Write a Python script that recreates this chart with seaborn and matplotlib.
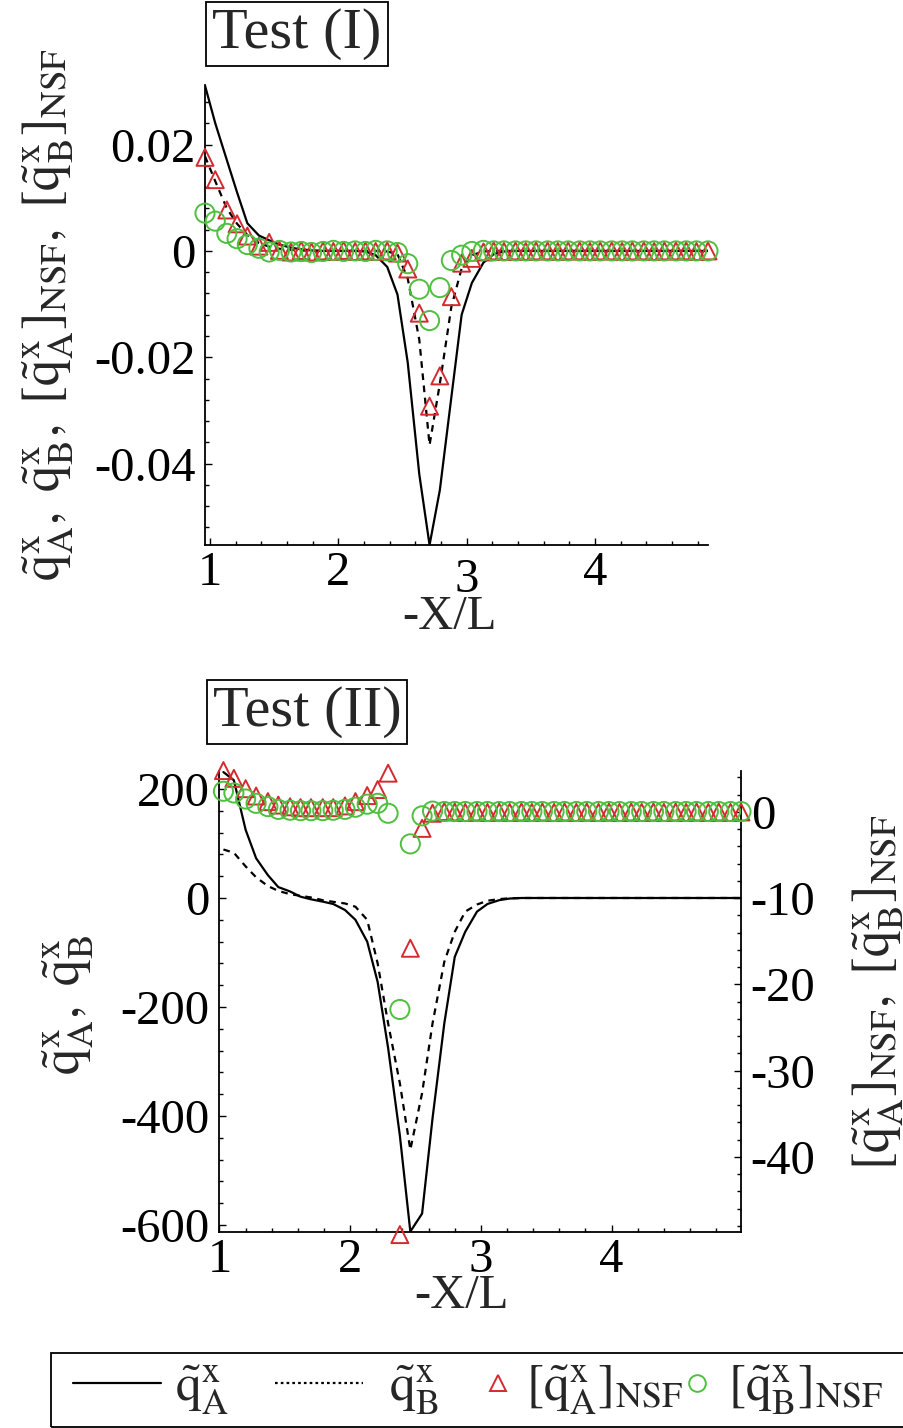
import matplotlib
matplotlib.use("Agg")
import matplotlib.pyplot as plt
import seaborn as sns
from matplotlib.lines import Line2D
from matplotlib.patches import Rectangle
from matplotlib.ticker import MultipleLocator
from matplotlib.transforms import ScaledTranslation

# ---------------- data ----------------
x_top = [0.96, 1.04, 1.13, 1.21, 1.29, 1.38, 1.46, 1.54, 1.63, 1.71, 1.79, 1.88,
         1.96, 2.04, 2.13, 2.21, 2.29, 2.38, 2.46, 2.54, 2.63, 2.71, 2.79, 2.88,
         2.96, 3.04, 3.13, 3.21, 3.29, 3.38, 3.46, 3.54, 3.63, 3.71, 3.79, 3.88,
         3.96, 4.04, 4.13, 4.21, 4.29, 4.38, 4.46, 4.54, 4.63, 4.71, 4.79, 4.88]
qA_top = [0.0311, 0.0240, 0.0171, 0.0110, 0.0052, 0.0029, 0.0020, 0.0012, 0.0006, 0.0003,
          0.0001, 0.0, 0.0, 0.0, 0.0, -0.0001, -0.0008, -0.0030, -0.0082, -0.0210,
          -0.0420, -0.0553, -0.0450, -0.0275, -0.0120, -0.0060, -0.0022, -0.0006, -0.0001, 0.0,
          0.0, 0.0, 0.0, 0.0, 0.0, 0.0, 0.0, 0.0, 0.0, 0.0,
          0.0, 0.0, 0.0, 0.0, 0.0, 0.0, 0.0, 0.0]
qB_top = [0.0178, 0.0131, 0.0080, 0.0051, 0.0030, 0.0015, 0.0008, 0.0004, 0.0002, 0.0001,
          0.0, 0.0, 0.0, 0.0, 0.0, 0.0, 0.0, -0.0001, -0.0006, -0.0052,
          -0.0167, -0.0365, -0.0250, -0.0105, -0.0033, -0.0008, -0.0001, 0.0, 0.0, 0.0,
          0.0, 0.0, 0.0, 0.0, 0.0, 0.0, 0.0, 0.0, 0.0, 0.0,
          0.0, 0.0, 0.0, 0.0, 0.0, 0.0, 0.0, 0.0]
nsfA_top = [0.0176, 0.0134, 0.0077, 0.0051, 0.0028, 0.0009, 0.0016, 0.0001, -0.0002, 0.0001,
            -0.0002, 0.0, -0.0001, 0.0001, -0.0001, 0.0, -0.0001, 0.0, -0.0004, -0.0034,
            -0.0117, -0.0292, -0.0235, -0.0086, -0.0023, -0.0014, -0.0002, 0.0, -0.0001, 0.0,
            -0.0001, 0.0, 0.0, -0.0001, 0.0, 0.0, -0.0001, 0.0, 0.0, -0.0001,
            0.0, 0.0, -0.0001, 0.0, 0.0, 0.0, -0.0001, 0.0]
nsfB_top = [0.0071, 0.0056, 0.0033, 0.0023, 0.0012, 0.0005, -0.0002, 0.0001, -0.0002, -0.0001,
            -0.0003, -0.0001, 0.0001, -0.0001, 0.0, -0.0001, 0.0001, 0.0, -0.0003, -0.0024,
            -0.0072, -0.0131, -0.0069, -0.0018, -0.0008, -0.0001, 0.0001, 0.0, 0.0, 0.0,
            0.0, 0.0, 0.0, 0.0, 0.0, 0.0, 0.0, 0.0, 0.0, 0.0,
            0.0, 0.0, 0.0, 0.0, 0.0, 0.0, 0.0, 0.0]

x_bot = [1.03, 1.11, 1.20, 1.28, 1.37, 1.45, 1.54, 1.62, 1.70, 1.79, 1.87, 1.96,
         2.04, 2.13, 2.21, 2.29, 2.38, 2.46, 2.55, 2.63, 2.72, 2.80, 2.88, 2.97,
         3.05, 3.14, 3.22, 3.31, 3.39, 3.47, 3.56, 3.64, 3.73, 3.81, 3.90, 3.98,
         4.06, 4.15, 4.23, 4.32, 4.40, 4.49, 4.57, 4.65, 4.74, 4.82, 4.91, 4.99]
qA_bot = [231, 216, 125, 73, 42, 20, 12, 2.4, -2.4, -6.7,
          -11, -22, -40, -80, -154, -275, -436, -612, -579, -404,
          -230, -108, -62, -25, -11, -4, -1, 0, 0, 0,
          0, 0, 0, 0, 0, 0, 0, 0, 0, 0,
          0, 0, 0, 0, 0, 0, 0, 0]
qB_bot = [89, 83, 58, 38, 22, 13, 7, 4, 1, -4,
          -7, -10, -16, -40, -120, -230, -340, -462, -358, -230,
          -117, -62, -25, -12, -5, -2, -0.5, 0, 0, 0,
          0, 0, 0, 0, 0, 0, 0, 0, 0, 0,
          0, 0, 0, 0, 0, 0, 0, 0]
nsfA_bot = [4.8, 3.9, 2.7, 1.85, 1.2, 0.8, 0.6, 0.5, 0.5, 0.5,
            0.5, 0.7, 1.2, 1.9, 2.6, 4.5, -49.0, -15.8, -1.9, -0.15,
            0.05, 0.0, -0.05, 0.0, -0.05, 0.0, -0.05, 0.0, -0.05, 0.0,
            -0.05, 0.0, -0.05, 0.0, -0.05, 0.0, -0.05, 0.0, -0.05, 0.0,
            -0.05, 0.0, -0.05, 0.0, -0.05, 0.0, -0.05, 0.0]
nsfB_bot = [2.4, 2.2, 1.5, 1.0, 0.62, 0.3, 0.2, 0.15, 0.15, 0.15,
            0.2, 0.3, 0.55, 0.9, 1.0, -0.15, -22.9, -3.7, -0.45, 0.1,
            0.05, 0.05, 0.05, 0.05, 0.05, 0.05, 0.05, 0.05, 0.05, 0.05,
            0.05, 0.05, 0.05, 0.05, 0.05, 0.05, 0.05, 0.05, 0.05, 0.05,
            0.05, 0.05, 0.05, 0.05, 0.05, 0.05, 0.05, 0.05]

xticks = [1, 2, 3, 4]
xticklabels = ["1", "2", "3", "4"]
yticks_top = [-0.04, -0.02, 0, 0.02]
yticklabels_top = ["-0.04", "-0.02", "0", "0.02"]
yticks_botL = [-600, -400, -200, 0, 200]
yticklabels_botL = ["-600", "-400", "-200", "0", "200"]
yticks_botR = [-40, -30, -20, -10, 0]
yticklabels_botR = ["-40", "-30", "-20", "-10", "0"]

QA = r"\tilde{\mathrm{q}}^{\mathrm{x}}_{\mathrm{A}}"
QB = r"\tilde{\mathrm{q}}^{\mathrm{x}}_{\mathrm{B}}"
NA = r"[" + QA + r"]_{\mathrm{NSF}}"
NB = r"[" + QB + r"]_{\mathrm{NSF}}"

# ---------------- style ----------------
sns.set_theme(style="ticks")
plt.rcParams["font.family"] = ["Liberation Serif", "DejaVu Serif"]
plt.rcParams["mathtext.fontset"] = "stix"
plt.rcParams["axes.unicode_minus"] = False

RED = "#d42a2f"
GREEN = "#4fbf3f"
TICK_FS = 35
LAB_FS = 38
LEG_FS = 37
W, H = 904, 1428


def fx(px):
    return px / W


def fy(py):
    return 1 - py / H


fig = plt.figure(figsize=(W / 100, H / 100), dpi=100)
fig.patch.set_facecolor("white")

ax1 = fig.add_axes([fx(205), fy(545), (708 - 205) / W, (545 - 85) / H])
ax2 = fig.add_axes([fx(219.5), fy(1232), (741 - 219.5) / W, (1232 - 771) / H])
ax2r = ax2.twinx()

for a in (ax1, ax2, ax2r):
    a.set_facecolor("none")
    for s in a.spines.values():
        s.set_color("black")
        s.set_linewidth(1.3)
    a.tick_params(which="both", direction="in", color="black", width=1.0,
                  labelsize=TICK_FS, labelcolor="black")
    a.tick_params(which="major", length=5)
    a.tick_params(which="minor", length=3)

ax1.spines["top"].set_visible(False)
ax1.spines["right"].set_visible(False)
ax2.spines["top"].set_visible(False)
ax2.spines["right"].set_visible(False)
ax2r.spines["top"].set_visible(False)
ax2r.spines["left"].set_visible(False)
ax2r.spines["bottom"].set_visible(False)

TRI_S, CIR_S = 150, 190

# ---------------- top panel ----------------
sns.lineplot(x=x_top, y=qA_top, ax=ax1, color="black", lw=1.6)
sns.lineplot(x=x_top, y=qB_top, ax=ax1, color="black", lw=1.6, linestyle=(0, (3, 2.5)))
sns.scatterplot(x=x_top, y=nsfA_top, ax=ax1, marker="^", s=TRI_S, facecolor="none",
                edgecolor=RED, linewidth=1.4, clip_on=False, zorder=3)
sns.scatterplot(x=x_top, y=nsfB_top, ax=ax1, marker="o", s=CIR_S, facecolor="none",
                edgecolor=GREEN, linewidth=1.4, clip_on=False, zorder=4)
ax1.set_xlim(0.96, 4.88)
ax1.set_ylim(-0.0553, 0.0312)
ax1.set_xticks(xticks)
ax1.set_xticklabels(xticklabels)
ax1.set_yticks(yticks_top)
ax1.set_yticklabels(yticklabels_top)
ax1.xaxis.set_minor_locator(MultipleLocator(0.2))
ax1.yaxis.set_minor_locator(MultipleLocator(0.004))
ax1.set_xlabel("")
ax1.set_ylabel("")
ax1.tick_params(axis="x", pad=4)
ax1.tick_params(axis="y", pad=7)

# ---------------- bottom panel ----------------
sns.lineplot(x=x_bot, y=qA_bot, ax=ax2, color="black", lw=1.6)
sns.lineplot(x=x_bot, y=qB_bot, ax=ax2, color="black", lw=1.6, linestyle=(0, (3, 2.5)))
sns.scatterplot(x=x_bot, y=nsfA_bot, ax=ax2r, marker="^", s=TRI_S, facecolor="none",
                edgecolor=RED, linewidth=1.4, clip_on=False, zorder=3)
sns.scatterplot(x=x_bot, y=nsfB_bot, ax=ax2r, marker="o", s=CIR_S, facecolor="none",
                edgecolor=GREEN, linewidth=1.4, clip_on=False, zorder=4)
ax2.set_xlim(1.0, 4.99)
ax2.set_ylim(-612.8, 233)
ax2r.set_ylim(-48.7, 4.75)
ax2.set_xticks(xticks)
ax2.set_xticklabels(xticklabels)
ax2.set_yticks(yticks_botL)
ax2.set_yticklabels(yticklabels_botL)
ax2r.set_yticks(yticks_botR)
ax2r.set_yticklabels(yticklabels_botR)
ax2.xaxis.set_minor_locator(MultipleLocator(0.2))
ax2.yaxis.set_minor_locator(MultipleLocator(40))
ax2r.yaxis.set_minor_locator(MultipleLocator(2))
for a in (ax2, ax2r):
    a.set_xlabel("")
    a.set_ylabel("")
ax2.tick_params(axis="x", pad=4)
ax2.tick_params(axis="y", pad=7)
ax2r.tick_params(axis="y", pad=7)

# the "3" label of the top panel sits a little lower in the reference
for lab in ax1.get_xticklabels():
    if lab.get_text() == "3":
        lab.set_transform(lab.get_transform() + ScaledTranslation(0, -0.07, fig.dpi_scale_trans))

# ---------------- texts ----------------
box = dict(boxstyle="square,pad=0.1", fc="white", ec="black", lw=1.3)
fig.text(fx(297), fy(34), "Test (I)", ha="center", va="center", fontsize=42, bbox=box)
fig.text(fx(307), fy(712), "Test (II)", ha="center", va="center", fontsize=42, bbox=box)

fig.text(fx(450), fy(617), "-X/L", ha="center", va="center", fontsize=TICK_FS)
fig.text(fx(462), fy(1296), "-X/L", ha="center", va="center", fontsize=TICK_FS)

fig.text(fx(48), fy(315), "$" + QA + r",\ " + QB + r",\ " + NA + r",\ " + NB + "$",
         rotation=90, ha="center", va="center", fontsize=LAB_FS)
fig.text(fx(68), fy(1005), "$" + QA + r",\ " + QB + "$",
         rotation=90, ha="center", va="center", fontsize=LAB_FS)
fig.text(fx(878), fy(992), "$" + NA + r",\ " + NB + "$",
         rotation=90, ha="center", va="center", fontsize=LAB_FS)

# ---------------- legend (one entry per legend so each sits where the reference has it) ----------------
PXPT = 100 / 72.0
leg_specs = [
    (Line2D([], [], color="black", lw=1.6), "$" + QA + "$", 73, 88, 14),
    (Line2D([], [], color="black", lw=1.6, linestyle=(0, (1.2, 1.4))), "$" + QB + "$", 275, 88, 26),
    (Line2D([], [], color=RED, marker="^", ls="none", markersize=12,
            markerfacecolor="none", markeredgewidth=1.4), "$" + NA + "$", 488, 20, 18),
    (Line2D([], [], color=GREEN, marker="o", ls="none", markersize=12,
            markerfacecolor="none", markeredgewidth=1.4), "$" + NB + "$", 687, 20, 21),
]
em = LEG_FS * PXPT
for h, lab, x0, hlen, hpad in leg_specs:
    lg = fig.legend([h], [lab], loc="center left", bbox_to_anchor=(fx(x0), fy(1390)),
                    fontsize=LEG_FS, frameon=False, handlelength=hlen / em,
                    handletextpad=hpad / em, borderpad=0, borderaxespad=0)
fig.patches.append(Rectangle((fx(51), fy(1427)), fx(910) - fx(51), (1427 - 1353) / H,
                             transform=fig.transFigure, fill=False, ec="black", lw=1.3))

fig.savefig("out.png", dpi=100)
